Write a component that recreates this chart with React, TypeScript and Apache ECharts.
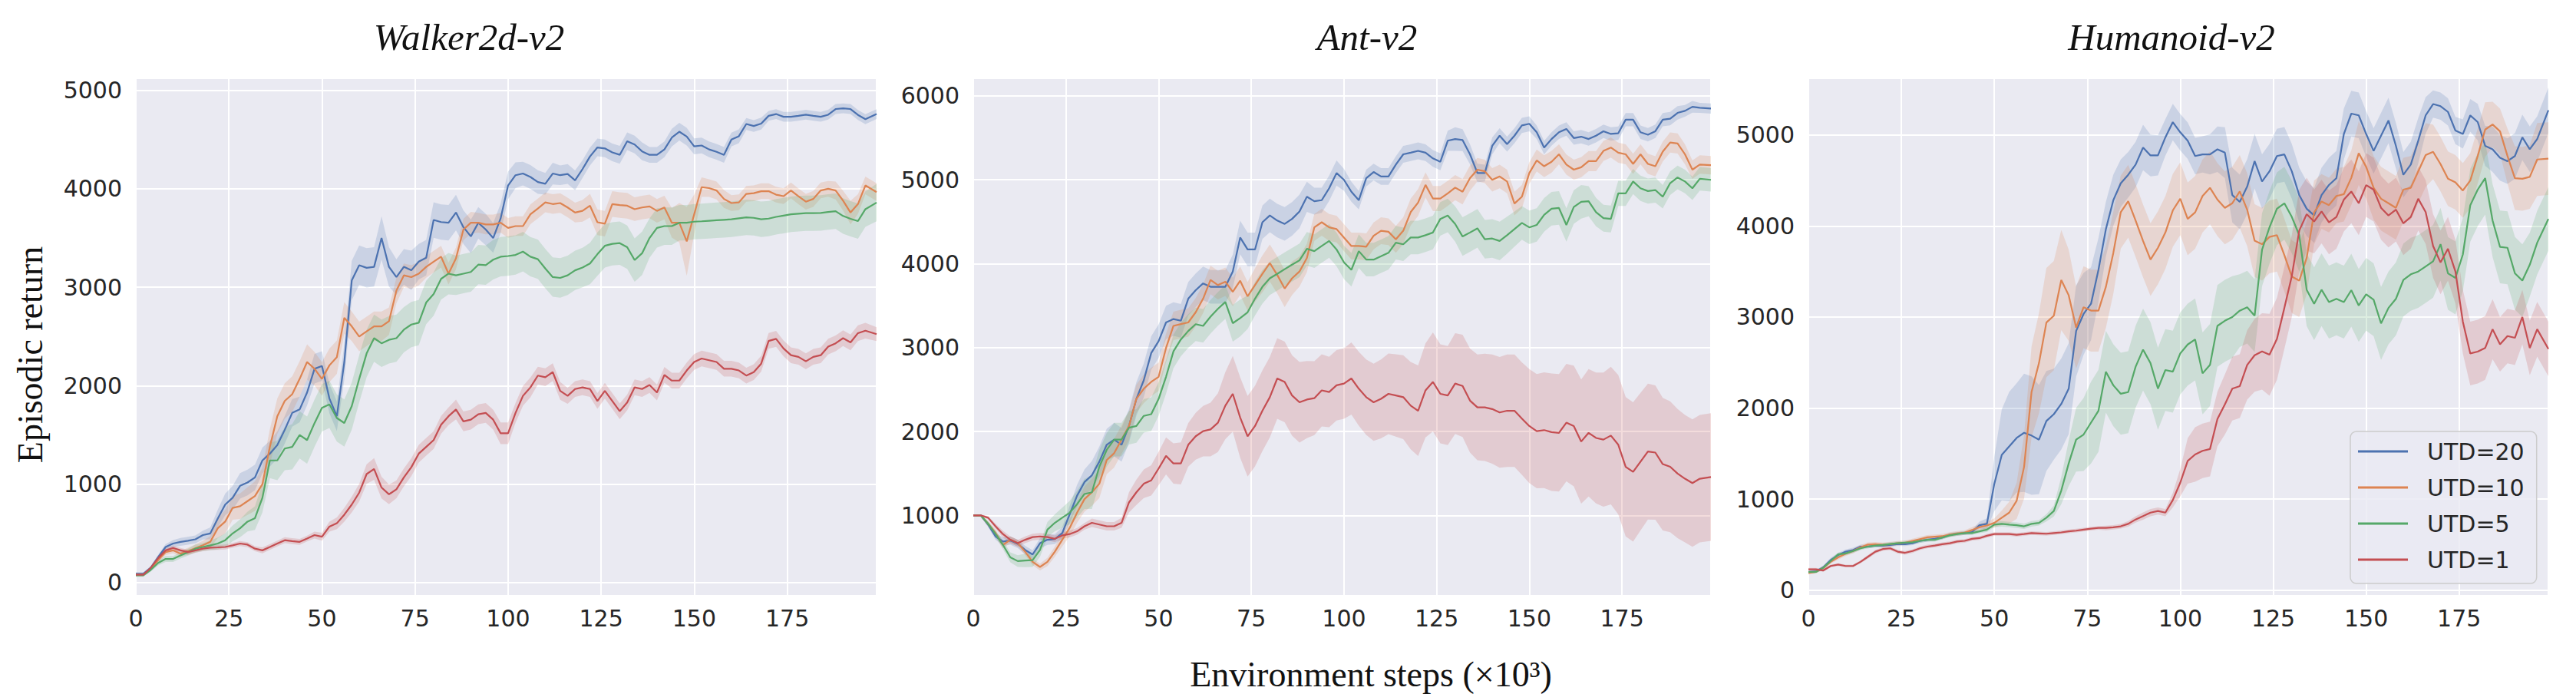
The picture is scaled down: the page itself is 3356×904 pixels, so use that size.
import React, { useEffect, useRef } from "react";
import * as echarts from "echarts";

// ---------- data ----------
const STEPS: number[] = Array.from({ length: 100 }, (_, i) => (i === 99 ? 199 : i * 2));
const SERIES_NAMES = ["UTD=20", "UTD=10", "UTD=5", "UTD=1"];
const PANEL_TITLES = ["Walker2d-v2", "Ant-v2", "Humanoid-v2"];
const X_TICKS = [0, 25, 50, 75, 100, 125, 150, 175];
const Y_LABEL = "Episodic return";
const X_LABEL = "Environment steps (×10³)";

// Walker2d-v2
const WALKER_UTD20 = [90,90,150,260,362,397,414,425,440,483, 500,650,793,862,983,1017,1069,1241,1310,1397, 1552,1724,1759,1931,2172,2200,1870,1690,2241,3069, 3224,3197,3207,3500,3207,3103,3207,3172,3260,3300, 3683,3662,3655,3759,3610,3517,3655,3586,3500,3700, 4034,4138,4155,4120,4069,4051,4155,4138,4150,4086, 4200,4328,4420,4410,4370,4345,4483,4450,4380,4345, 4345,4400,4520,4580,4530,4431,4440,4400,4375,4345, 4500,4534,4658,4638,4662,4741,4759,4731,4731,4741, 4752,4741,4731,4752,4810,4817,4810,4750,4707,4759];
const WALKER_UTD20_SPREAD = [15,15,20,25,30,35,40,40,40,45, 60,90,110,120,130,130,130,130,130,140, 140,140,130,130,150,150,150,150,180,200, 200,200,200,220,200,180,180,200,180,180, 180,180,180,180,170,170,160,160,150,150, 140,130,120,120,120,110,110,100,100,100, 90,90,90,90,90,90,90,90,90,80, 80,80,90,90,90,80,80,80,80,80, 70,70,60,60,60,50,50,50,50,50, 50,50,50,50,50,50,50,50,50,50];
const WALKER_UTD10 = [80,80,140,230,310,328,293,320,350,379, 414,552,620,759,776,828,879,1000,1379,1690, 1845,1914,2069,2241,2172,2069,2207,2290,2690,2603, 2500,2552,2603,2603,2655,2966,3121,3103,3138,3207, 3259,3310,3138,3293,3586,3655,3655,3638,3638,3655, 3603,3621,3621,3741,3800,3862,3845,3855,3810,3759, 3776,3828,3660,3645,3845,3834,3828,3793,3810,3821, 3776,3810,3655,3655,3466,3741,4017,4007,3983,3897, 3855,3862,3948,3955,3975,3975,3940,3925,3983,3924, 3869,3897,3983,4000,3983,3879,3759,3845,4034,3966];
const WALKER_UTD10_SPREAD = [15,15,20,25,30,30,30,35,40,45, 60,100,120,120,130,140,150,170,180,180, 180,180,180,180,170,170,170,170,160,150, 150,150,150,150,140,130,120,120,120,110, 110,110,110,110,110,110,100,100,100,100, 100,100,100,100,100,100,100,100,100,100, 110,120,130,130,130,130,130,120,120,120, 120,120,150,200,350,200,100,90,90,90, 80,80,80,80,80,80,80,80,80,80, 80,80,80,80,90,100,120,100,90,90];
const WALKER_UTD5 = [75,75,130,200,241,241,276,310,345,362, 379,397,431,500,552,620,655,862,1241,1241, 1362,1379,1500,1448,1620,1776,1810,1672,1621,1793, 2069,2328,2483,2431,2466,2483,2569,2621,2640,2845, 2931,3085,3138,3121,3138,3155,3230,3225,3280,3310, 3317,3328,3362,3310,3285,3190,3103,3095,3121,3172, 3200,3241,3336,3421,3441,3448,3407,3276,3345,3500, 3603,3621,3621,3655,3655,3666,3670,3675,3680,3685, 3690,3700,3710,3705,3690,3697,3715,3728,3741,3747, 3752,3752,3755,3765,3772,3724,3695,3672,3793,3860];
const WALKER_UTD5_SPREAD = [15,15,20,25,30,30,30,35,40,40, 50,60,70,80,90,100,120,150,180,200, 220,230,240,240,240,240,240,240,240,240, 240,240,240,240,240,240,230,230,230,220, 220,210,210,200,200,200,200,200,200,200, 200,200,200,200,200,200,200,200,200,200, 200,210,220,220,220,220,220,220,220,200, 200,190,190,180,180,180,180,180,180,180, 180,180,180,180,180,180,180,180,180,180, 180,180,180,180,180,180,180,180,180,190];
const WALKER_UTD1 = [80,80,150,250,328,352,328,310,328,345, 355,358,362,379,397,386,345,328,362,397, 431,421,414,448,483,466,569,603,690,793, 914,1103,1155,966,897,948,1069,1172,1310,1379, 1448,1603,1690,1759,1638,1655,1710,1724,1655,1517, 1517,1724,1897,1983,2103,2086,2138,1948,1897,1966, 1983,1966,1845,1948,1845,1741,1830,1983,1966,2007, 1931,2110,2052,2052,2155,2241,2276,2259,2241,2172, 2172,2155,2103,2138,2224,2455,2476,2379,2310,2293, 2248,2293,2310,2397,2431,2483,2440,2534,2559,2524];
const WALKER_UTD1_SPREAD = [15,15,20,20,25,25,25,25,25,25, 25,25,25,25,25,25,25,30,30,30, 30,30,30,30,35,40,50,60,70,80, 90,100,110,110,100,90,90,90,90,90, 90,90,90,100,100,100,100,100,100,110, 110,100,100,100,90,90,90,90,80,80, 80,80,80,80,80,80,80,80,80,80, 80,80,80,80,80,80,80,80,80,80, 80,80,80,80,80,80,80,80,80,80, 80,80,80,80,80,80,80,80,80,70];

// Ant-v2
const ANT_UTD20 = [1000,1000,891,749,688,700,660,587,534,668, 709,717,789,1012,1235,1397,1478,1640,1842,1903, 1842,2065,2389,2611,2935,3077,3300,3340,3320,3583, 3684,3765,3725,3725,3725,3907,4312,4170,4170,4494, 4575,4514,4474,4534,4623,4798,4745,4757,4899,5081, 5000,4858,4757,5020,5093,5040,5040,5182,5304,5324, 5345,5324,5255,5215,5466,5486,5474,5304,5081,5081, 5405,5526,5425,5526,5648,5668,5567,5385,5486,5567, 5607,5498,5514,5486,5526,5579,5547,5555,5717,5717, 5567,5538,5579,5717,5729,5798,5822,5870,5858,5850];
const ANT_UTD20_SPREAD = [10,10,30,40,50,50,50,50,50,60, 60,60,70,100,130,150,170,180,190,200, 200,200,200,200,200,200,200,200,200,200, 200,200,200,200,200,200,200,200,200,200, 200,200,200,200,200,180,160,150,150,150, 130,120,110,100,100,100,100,100,100,100, 100,100,100,100,120,140,130,120,110,100, 100,90,90,90,90,90,80,80,80,80, 80,80,80,80,80,80,80,80,80,80, 80,80,80,80,80,80,70,70,60,60];
const ANT_UTD10 = [1000,1000,900,790,648,709,668,567,445,385, 445,567,709,850,1032,1194,1275,1377,1660,1741, 1903,2065,2389,2510,2591,2652,2996,3259,3280,3300, 3421,3583,3806,3745,3785,3664,3797,3611,3745,3879, 4008,3866,3704,3826,3907,4069,4433,4494,4433,4413, 4312,4211,4211,4202,4332,4393,4381,4291,4393,4615, 4729,4939,4777,4777,4838,4907,4858,5020,5121,5101, 5000,5040,4980,4717,4798,5081,5231,5162,5215,5304, 5182,5121,5150,5223,5223,5345,5385,5324,5304,5190, 5304,5190,5162,5336,5445,5433,5304,5121,5182,5174];
const ANT_UTD10_SPREAD = [10,10,30,40,40,40,40,40,40,40, 50,60,80,100,120,150,160,170,170,170, 170,170,170,170,170,170,170,170,170,170, 170,170,170,170,170,170,170,170,200,220, 220,220,220,200,180,170,160,160,160,160, 160,160,160,160,160,160,160,160,160,160, 160,150,150,150,150,150,150,150,140,140, 140,140,140,140,140,130,130,130,130,120, 120,120,120,120,120,120,120,120,120,120, 120,120,120,120,120,120,120,110,110,110];
const ANT_UTD5 = [1000,1000,900,780,648,500,455,462,466,587, 830,911,972,1032,1134,1255,1275,1579,1781,1903, 1903,2045,2065,2186,2206,2389,2652,2955,3097,3198, 3279,3259,3368,3462,3543,3291,3352,3421,3583,3725, 3826,3879,3935,3988,4040,4178,4150,4211,4271,4170, 4016,3927,4150,4049,4049,4089,4130,4251,4231,4312, 4312,4340,4372,4534,4575,4474,4324,4372,4421,4291, 4300,4271,4340,4413,4486,4433,4462,4583,4656,4664, 4462,4676,4737,4745,4615,4543,4534,4838,4838,4980, 4899,4866,4878,4798,4960,5028,4980,4899,5012,5000];
const ANT_UTD5_SPREAD = [10,10,30,40,50,60,70,80,80,80, 90,100,120,140,160,180,200,200,200,200, 200,200,200,200,200,200,200,200,200,200, 200,200,200,200,200,220,220,200,200,200, 200,200,200,200,200,200,200,200,200,200, 200,200,200,200,200,200,200,200,200,200, 200,200,200,200,200,210,230,230,230,230, 230,230,220,210,200,200,200,200,200,200, 200,200,200,180,170,160,160,150,150,150, 150,150,150,140,140,140,140,140,140,140];
const ANT_UTD1 = [1000,1000,972,870,777,709,668,709,741,749, 741,721,761,777,810,870,911,891,870,870, 911,1154,1275,1377,1417,1559,1709,1619,1619,1842, 1943,2004,2024,2105,2308,2449,2166,1943,2065,2247, 2409,2632,2591,2429,2348,2381,2397,2490,2470,2551, 2571,2632,2510,2409,2348,2389,2449,2429,2409,2308, 2247,2490,2591,2449,2429,2571,2543,2368,2287,2287, 2267,2227,2247,2247,2154,2065,2004,2016,1992,1984, 2105,2065,1880,1984,1923,1903,1951,1842,1579,1518, 1640,1761,1749,1611,1579,1498,1437,1385,1437,1457];
const ANT_UTD1_SPREAD = [10,10,20,30,40,40,40,40,40,40, 40,40,40,40,40,40,50,50,50,50, 60,120,150,170,180,200,220,240,250,260, 280,300,320,350,400,450,480,480,480,480, 480,480,480,480,480,460,440,430,420,420, 420,430,440,450,460,470,480,490,500,520, 540,560,590,590,590,600,610,620,630,640, 650,660,670,670,670,680,680,690,700,700, 700,720,740,760,780,800,820,830,830,830, 820,810,800,790,780,770,760,760,760,760];

// Humanoid-v2
const HUMANOID_UTD20 = [198,205,250,330,384,422,440,478,478,489, 489,496,507,504,515,541,552,563,578,608, 619,627,638,713,728,1168,1485,1578,1672,1728, 1698,1653,1858,1933,2045,2213,2847,3034,3146,3519, 3966,4284,4470,4563,4675,4862,4776,4776,4974,5142, 5030,4937,4769,4787,4787,4843,4806,4340,4265,4433, 4713,4489,4601,4769,4787,4601,4340,4190,4116,4340, 4451,4526,5011,5235,5216,5011,4825,4993,5160,4881, 4563,4675,4937,5216,5340,5317,5254,5049,5011,5216, 5142,4881,4843,4750,4713,4769,4974,4843,4955,5272];
const HUMANOID_UTD20_SPREAD = [15,15,20,25,25,25,25,20,20,20, 20,20,20,20,20,20,20,20,20,20, 20,20,25,40,60,300,500,600,600,650, 650,600,550,500,500,500,500,450,400,350, 300,280,260,250,250,250,230,220,200,200, 200,200,200,200,220,250,280,300,300,300, 300,300,300,300,300,300,300,300,300,300, 300,300,280,250,250,250,250,250,250,250, 250,250,250,200,150,150,150,150,160,180, 200,220,250,250,250,250,250,250,250,250];
const HUMANOID_UTD10 = [187,200,245,310,360,400,430,470,500,504, 498,505,515,520,540,560,580,586,592,610, 623,632,660,692,710,738,795,851,981,1354, 2175,2493,2940,3015,3407,3239,2884,3108,3071,3071, 3332,3705,4153,4272,4060,3836,3631,3761,3929,4172, 4300,4078,4150,4330,4420,4290,4200,4250,4380,4180, 3840,3800,3880,3900,3680,3444,3400,3650,4150,4270, 4230,4330,4350,4530,4800,4650,4420,4300,4250,4200, 4400,4420,4600,4780,4815,4680,4520,4480,4390,4500, 4770,5060,5116,5040,4770,4526,4519,4540,4731,4740];
const HUMANOID_UTD10_SPREAD = [15,15,20,20,25,25,25,25,25,25, 25,25,25,25,25,25,25,25,25,25, 25,25,30,35,40,50,80,120,200,350, 500,550,600,600,550,500,450,450,450,450, 450,450,400,400,400,400,400,400,400,400, 400,400,400,400,400,400,400,400,400,400, 400,400,400,400,400,400,400,400,350,300, 300,300,300,300,350,350,350,350,350,350, 350,350,350,350,300,300,300,300,300,300, 300,300,250,250,300,350,350,350,400,400];
const HUMANOID_UTD5 = [198,200,245,320,392,403,429,459,478,489, 496,507,515,522,526,541,552,552,578,601, 616,627,627,646,664,720,728,720,713,701, 728,739,795,869,1093,1392,1653,1709,1840,1970, 2399,2250,2157,2175,2455,2642,2493,2213,2418,2400, 2600,2698,2754,2381,2474,2903,2959,3000,3070,3108, 3015,3740,3985,4190,4250,4100,3900,3300,3146,3300, 3164,3200,3164,3295,3127,3250,3190,2930,3100,3200, 3407,3470,3500,3556,3612,3800,3480,3430,3687,4228, 4400,4526,4060,3770,3761,3481,3400,3575,3817,4078];
const HUMANOID_UTD5_SPREAD = [15,15,20,20,20,20,20,20,20,20, 20,20,20,20,20,20,20,20,20,20, 20,20,20,20,25,30,30,30,30,30, 30,30,40,60,150,250,350,400,450,450, 450,450,450,450,450,450,450,450,450,450, 450,450,450,450,450,450,450,450,400,400, 400,400,400,400,400,400,400,400,400,400, 400,400,400,400,400,400,400,400,400,400, 400,400,400,400,400,400,400,400,400,400, 400,400,400,400,400,400,400,350,350,350];
const HUMANOID_UTD1 = [228,228,216,265,280,265,265,310,366,422, 451,459,422,410,429,459,478,489,504,515, 534,541,563,571,597,616,616,616,608,616, 627,623,619,627,634,646,653,664,675,683, 683,690,701,728,776,813,851,869,851,989, 1180,1420,1490,1530,1550,1880,2040,2213,2240,2474, 2580,2623,2586,2760,3100,3450,3950,4130,4050,4160, 4040,4100,4290,4380,4250,4450,4400,4200,4116,4180, 4030,4100,4300,4153,3780,3600,3750,3500,2950,2600, 2620,2660,2866,2700,2791,2772,3000,2660,2866,2650];
const HUMANOID_UTD1_SPREAD = [15,15,15,15,15,15,15,15,20,20, 20,20,20,20,20,20,20,20,20,20, 20,20,20,20,20,20,20,20,20,20, 20,20,20,20,20,20,20,20,20,20, 25,25,25,30,35,40,40,40,40,80, 150,250,300,300,300,300,330,350,350,380, 400,420,450,450,450,450,450,400,350,350, 350,350,350,350,350,350,350,350,350,350, 350,350,350,350,350,350,350,350,350,350, 350,350,330,300,300,300,300,300,300,300];

const PANEL_MEANS = [
  [WALKER_UTD20, WALKER_UTD10, WALKER_UTD5, WALKER_UTD1],
  [ANT_UTD20, ANT_UTD10, ANT_UTD5, ANT_UTD1],
  [HUMANOID_UTD20, HUMANOID_UTD10, HUMANOID_UTD5, HUMANOID_UTD1],
];
const PANEL_SPREADS = [
  [WALKER_UTD20_SPREAD, WALKER_UTD10_SPREAD, WALKER_UTD5_SPREAD, WALKER_UTD1_SPREAD],
  [ANT_UTD20_SPREAD, ANT_UTD10_SPREAD, ANT_UTD5_SPREAD, ANT_UTD1_SPREAD],
  [HUMANOID_UTD20_SPREAD, HUMANOID_UTD10_SPREAD, HUMANOID_UTD5_SPREAD, HUMANOID_UTD1_SPREAD],
];
const Y_MIN = [-133, 42, -62];
const Y_MAX = [5122, 6210, 5623];

// ---------- style / layout ----------
const COLORS = ["#4C72B0", "#DD8452", "#55A868", "#C44E52"];
const BAND_COLORS = ["rgba(76,114,176,0.2)", "rgba(221,132,82,0.2)", "rgba(85,168,104,0.2)", "rgba(196,78,82,0.2)"];
const GRID_LEFT = [177, 1268, 2356];
const GRID_WIDTH = [965, 961, 964];
const GRID_TOP = 102;
const GRID_HEIGHT = 674;
const TITLE_X = [611, 1781, 2829];
const TICK_COLOR = "#262626";

export default function App() {
  const ref = useRef<HTMLDivElement>(null);

  useEffect(() => {
    document.body.style.margin = "0";
    if (!ref.current) return;
    const chart = echarts.init(ref.current, null, { renderer: "svg" });

    const grids = GRID_LEFT.map((left, p) => ({
      left,
      top: GRID_TOP,
      width: GRID_WIDTH[p],
      height: GRID_HEIGHT,
      show: true,
      backgroundColor: "#EAEAF2",
      borderWidth: 0,
      containLabel: false,
    }));

    const xAxes = GRID_LEFT.map((_, p) => ({
      type: "value",
      gridIndex: p,
      min: 0,
      max: 199,
      interval: 25,
      axisLine: { show: false },
      axisTick: { show: false },
      axisLabel: {
        fontFamily: "DejaVu Sans",
        fontSize: 30,
        color: TICK_COLOR,
        margin: 14,
        formatter: (v: number) => (X_TICKS.indexOf(v) >= 0 ? String(v) : ""),
      },
      splitLine: { show: true, lineStyle: { color: "#ffffff", width: 2 } },
    }));

    const yAxes = GRID_LEFT.map((_, p) => ({
      type: "value",
      gridIndex: p,
      min: Y_MIN[p],
      max: Y_MAX[p],
      minInterval: 1000,
      maxInterval: 1000,
      axisLine: { show: false },
      axisTick: { show: false },
      axisLabel: {
        fontFamily: "DejaVu Sans",
        fontSize: 30,
        color: TICK_COLOR,
        margin: 18,
        formatter: (v: number) => (Math.round(v) % 1000 === 0 ? String(Math.round(v)) : ""),
      },
      splitLine: { show: true, lineStyle: { color: "#ffffff", width: 2 } },
    }));

    const lineSeries: any[] = [];
    const bandSeries: any[] = [];
    PANEL_MEANS.forEach((means, p) => {
      means.forEach((mean, s) => {
        const spread = PANEL_SPREADS[p][s];
        bandSeries.push({
          type: "custom",
          name: SERIES_NAMES[s] + " band",
          xAxisIndex: p,
          yAxisIndex: p,
          silent: true,
          z: 1,
          data: [[STEPS[0], mean[0]]],
          encode: { x: 0, y: 1 },
          renderItem: (_params: any, api: any) => {
            const pts: number[][] = [];
            for (let i = 0; i < STEPS.length; i++) pts.push(api.coord([STEPS[i], mean[i] + spread[i]]));
            for (let i = STEPS.length - 1; i >= 0; i--) pts.push(api.coord([STEPS[i], mean[i] - spread[i]]));
            return { type: "polygon", shape: { points: pts }, style: { fill: BAND_COLORS[s] } };
          },
        });
        lineSeries.push({
          type: "line",
          name: SERIES_NAMES[s],
          xAxisIndex: p,
          yAxisIndex: p,
          data: STEPS.map((x, i) => [x, mean[i]]),
          symbol: "none",
          showSymbol: false,
          silent: true,
          z: 3,
          lineStyle: { width: 2.2, color: COLORS[s] },
          itemStyle: { color: COLORS[s] },
        });
      });
    });

    const titleGraphics = PANEL_TITLES.map((t, p) => ({
      type: "text",
      x: TITLE_X[p],
      y: 48,
      silent: true,
      style: {
        text: t,
        fontFamily: "Liberation Serif",
        fontStyle: "italic",
        fontSize: 49,
        fill: "#111111",
        align: "center",
        verticalAlign: "middle",
      },
    }));

    chart.setOption({
      animation: false,
      backgroundColor: "#ffffff",
      grid: grids,
      xAxis: xAxes,
      yAxis: yAxes,
      legend: {
        show: true,
        selectedMode: false,
        orient: "vertical",
        left: 3062,
        top: 562,
        padding: [11, 16, 16, 10],
        itemGap: 17,
        itemWidth: 65,
        itemHeight: 3,
        backgroundColor: "rgba(234,234,242,0.8)",
        borderColor: "#cccccc",
        borderWidth: 1.5,
        borderRadius: 8,
        data: SERIES_NAMES.map((n) => ({ name: n, icon: "rect" })),
        textStyle: {
          fontFamily: "DejaVu Sans",
          fontSize: 30,
          color: TICK_COLOR,
          padding: [0, 0, 0, 20],
        },
      },
      graphic: [
        ...titleGraphics,
        {
          type: "text",
          x: 39,
          y: 462,
          rotation: Math.PI / 2,
          silent: true,
          style: {
            text: Y_LABEL,
            fontFamily: "Liberation Serif",
            fontSize: 46,
            fill: "#111111",
            align: "center",
            verticalAlign: "middle",
          },
        },
        {
          type: "text",
          x: 1786,
          y: 878,
          silent: true,
          style: {
            text: X_LABEL,
            fontFamily: "Liberation Serif",
            fontSize: 46,
            fill: "#111111",
            align: "center",
            verticalAlign: "middle",
          },
        },
      ],
      series: [...lineSeries, ...bandSeries],
    });

    return () => chart.dispose();
  }, []);

  return <div ref={ref} style={{ width: 3356, height: 904 }} />;
}
